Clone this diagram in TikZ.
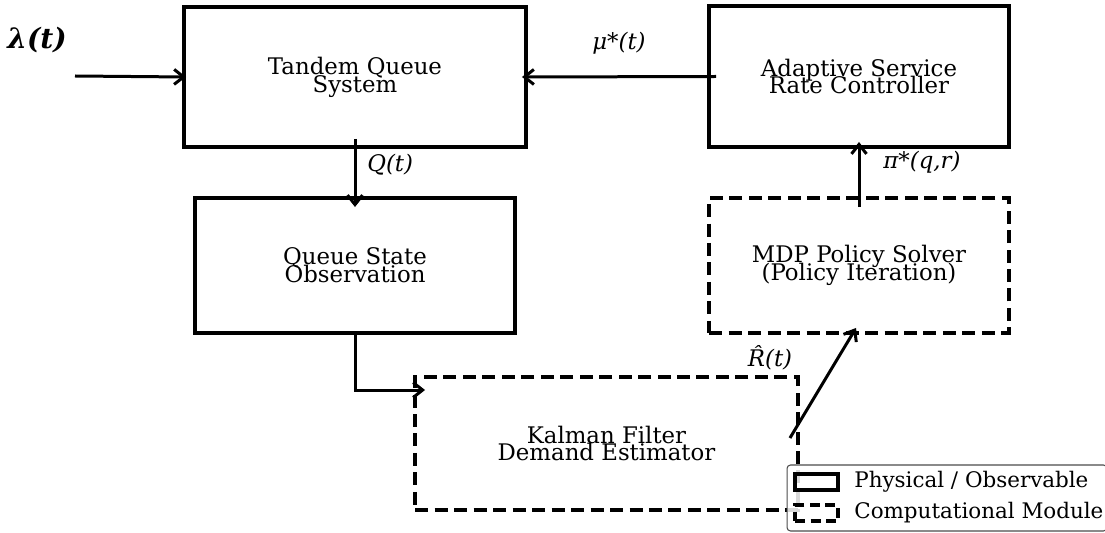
\documentclass[tikz,border=0pt]{standalone}
\usepackage{fontspec}
\setmainfont{DejaVu Serif}
\usetikzlibrary{arrows.meta,calc}
\newcommand\boxfont{\fontsize{13}{10.2}\selectfont\lineskiplimit=-20pt\relax}

\begin{document}
\begin{tikzpicture}[
    x=0.02cm, y=-0.02cm,
    >={Straight Barb[length=0.19cm,width=0.3cm]},
    box/.style={draw, line width=0.08cm, align=center, inner sep=0pt, font=\boxfont},
    physical/.style={box},
    computational/.style={box, dash pattern=on 0.26cm off 0.13cm},
    arrow/.style={->, line width=0.06cm},
    lbl/.style={font=\fontsize{13}{15}\selectfont\itshape},
    legendtext/.style={anchor=west, inner sep=0pt, font=\fontsize{12.2}{14}\selectfont}
  ]
    \useasboundingbox (0,0) rectangle (1105,533);

    \node[physical, minimum width=6.84cm, minimum height=2.8cm] (tandem) at (355,77) {Tandem Queue\\System};
    \node[physical, minimum width=6cm, minimum height=2.82cm] (controller) at (859,76.5) {Adaptive Service\\Rate Controller};
    \node[physical, minimum width=6.4cm, minimum height=2.7cm] (observe) at (355,265.5) {Queue State\\Observation};
    \node[computational, minimum width=6cm, minimum height=2.7cm] (mdp) at (859,265.5) {MDP Policy Solver\\(Policy Iteration)};
    \node[computational, minimum width=7.66cm, minimum height=2.66cm] (kalman) at (606.5,443.5) {Kalman Filter\\Demand Estimator};

    \coordinate (arrival) at (75,76);
    \node[font=\fontsize{16}{18}\selectfont\bfseries\itshape] (lambda) at (37,40) {λ(t)};

    \draw[arrow] (arrival) -- ([xshift=0.08cm]tandem.west);
    \draw[arrow] ([xshift=0.18cm]controller.west) -- node[lbl, pos=0.5, yshift=0.68cm] {μ*(t)} ([xshift=-0.12cm]tandem.east);
    \draw[arrow] ([yshift=0.2cm]tandem.south) -- node[lbl, right=0.1cm, pos=0.38] {Q(t)} ([yshift=-0.22cm]observe.north);
    \draw[arrow] (observe.south) |- ([xshift=0.24cm,yshift=1.07cm]kalman.west);
    \draw[arrow] ([xshift=-0.2cm,yshift=0.11cm]kalman.east) -- ([xshift=-0.06cm,yshift=0.14cm]mdp.south);
    \draw[arrow] ([yshift=-0.22cm]mdp.north) -- ([yshift=0.14cm]controller.south);

    \node[lbl] (pilabel) at (922,162) {π*(q,r)};
    \node[lbl] (rlabel) at (770,358) {R̂(t)};

    % legend
    \node[draw=black!70, fill=white, fill opacity=0.85, rounded corners=2pt, line width=0.6pt,
          minimum width=6.4cm, minimum height=1.32cm, inner sep=0pt] (legend) at (947,498) {};
    \node[physical, minimum width=0.86cm, minimum height=0.32cm] (legphys) at (816.5,482) {};
    \node[computational, dash pattern=on 0.2cm off 0.11cm, minimum width=0.86cm, minimum height=0.32cm] (legcomp) at (816.5,513) {};
    \node[legendtext] (legphystext) at (854,482) {Physical / Observable};
    \node[legendtext] (legcomptext) at (854,513) {Computational Module};
\end{tikzpicture}
\end{document}
